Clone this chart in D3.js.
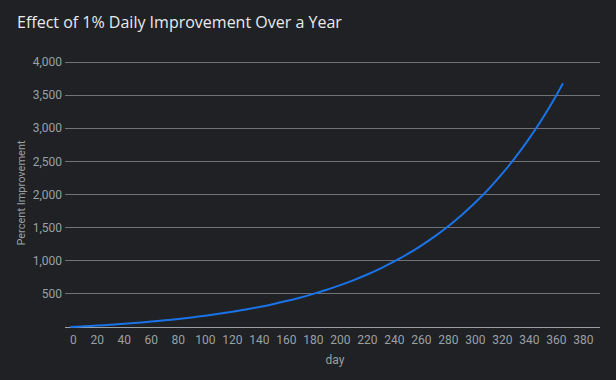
<!DOCTYPE html>
<html><head><meta charset="utf-8">
<script src="https://cdn.jsdelivr.net/npm/d3@7/dist/d3.min.js"></script>
<style>html,body{margin:0;padding:0;background:#202124;}svg{display:block;}</style>
</head><body>
<script>
const days = [0,5,10,15,20,25,30,35,40,45,50,55,60,65,70,75,80,85,90,95,100,110,120,130,140,150,160,170,180,190,200,210,220,230,240,250,260,270,280,290,300,310,320,330,340,350,360,365];
const improvement = [0,5.1,10.5,16.1,22.0,28.2,34.8,41.7,48.9,56.5,64.5,72.9,81.7,90.9,100.7,110.9,121.7,133.0,144.9,157.4,170.5,198.8,230.0,264.6,302.7,344.8,391.4,442.8,499.6,562.3,631.6,708.1,792.7,886.1,989.3,1103.2,1229.1,1368.1,1521.7,1691.4,1878.8,2085.8,2314.5,2567.1,2846.2,3154.5,3495.0,3678.3];
const xTicks = [0,20,40,60,80,100,120,140,160,180,200,220,240,260,280,300,320,340,360,380];
const yTicks = [500,1000,1500,2000,2500,3000,3500,4000];
const title = "Effect of 1% Daily Improvement Over a Year";
const xTitle = "day";
const yTitle = "Percent Improvement";

const W = 616, H = 380;
const svg = d3.select("body").append("svg").attr("width", W).attr("height", H);
svg.append("rect").attr("width", W).attr("height", H).attr("fill", "#202124");

const x = d3.scaleLinear().domain([-3.9, 392.4]).range([65, 600]);
const y = d3.scaleLinear().domain([0, 4000]).range([327, 62]);
const font = "Roboto, 'Open Sans', sans-serif";

svg.append("text").attr("x", 17).attr("y", 28).attr("fill", "#e8eaed")
  .attr("font-family", "'Open Sans', sans-serif").attr("font-size", 16).attr("font-weight", 500).text(title);

// gridlines
svg.append("g").selectAll("line").data(yTicks).join("line")
  .attr("x1", 65).attr("x2", 600).attr("y1", d => y(d)).attr("y2", d => y(d))
  .attr("stroke", "#6f7377").attr("stroke-width", 1).attr("shape-rendering", "crispEdges");

// y labels
svg.append("g").selectAll("text").data(yTicks).join("text")
  .attr("x", 62).attr("y", d => y(d)).attr("dy", "0.35em").attr("text-anchor", "end")
  .attr("fill", "#9aa0a6").attr("font-family", font).attr("font-size", 12)
  .text(d => d3.format(",")(d));

// baseline
svg.append("line").attr("x1", 65).attr("x2", 600).attr("y1", y(0)).attr("y2", y(0))
  .attr("stroke", "#9aa0a6").attr("stroke-width", 1).attr("shape-rendering", "crispEdges");

// x labels
svg.append("g").selectAll("text").data(xTicks).join("text")
  .attr("x", d => x(d) + (d === 0 ? 3 : 0)).attr("y", 344).attr("text-anchor", "middle")
  .attr("fill", "#9aa0a6").attr("font-family", font).attr("font-size", 12)
  .text(d => d);

svg.append("text").attr("x", 335).attr("y", 364).attr("text-anchor", "middle")
  .attr("fill", "#9aa0a6").attr("font-family", font).attr("font-size", 12).text(xTitle);

svg.append("text").attr("transform", "translate(25,193) rotate(-90)").attr("text-anchor", "middle")
  .attr("fill", "#9aa0a6").attr("font-family", font).attr("font-size", 11).text(yTitle);

const data = days.map((d, i) => [d, improvement[i]]);
svg.append("path").datum(data)
  .attr("d", d3.line().x(d => x(d[0])).y(d => y(d[1])).curve(d3.curveMonotoneX))
  .attr("fill", "none").attr("stroke", "#1a73e8").attr("stroke-width", 2);
</script>
</body></html>
